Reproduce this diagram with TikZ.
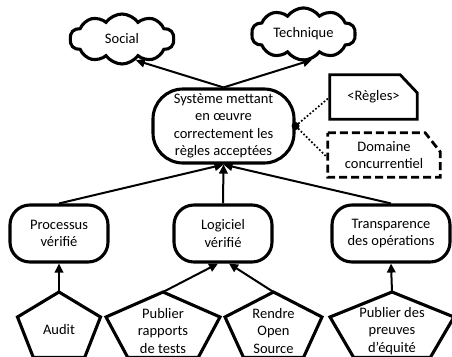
\documentclass[tikz,border=0pt]{standalone}
\usepackage{fontspec}
\setmainfont{Carlito}
\usetikzlibrary{shapes.symbols,arrows.meta,calc}

\tikzset{
  goal/.style={draw, line width=3.1pt, rounded corners=20pt, align=center,
    inner sep=0pt, minimum height=57pt, minimum width=98pt},
  topic/.style={cloud, draw, line width=3.1pt, cloud puffs=10, cloud puff arc=110,
    aspect=2.1, inner sep=0pt, minimum width=104pt, minimum height=50pt},
  link/.style={line width=2pt, -{Triangle[length=9pt,width=8.5pt]}},
  note/.style={line width=1.7pt, dotted},
  penta/.style={line width=3.1pt, line join=miter},
  ptext/.style={align=center, inner sep=0pt}
}

\begin{document}
\begin{tikzpicture}[x=1pt, y=-1pt, font=\fontsize{14.5pt}{17.5pt}\selectfont]
  \useasboundingbox (0,0) rectangle (452,356);

  % upper-level concerns
  \node[topic] (social) at (122,39) {Social};
  \node[topic] (tech) at (303.5,34) {Technique};

  % central goal
  \node[goal, rounded corners=30pt, minimum width=141pt, minimum height=74pt]
    (main) at (223.5,126) {Système mettant\\en œuvre\\correctement les\\règles acceptées};

  % sub-goals
  \node[goal] (proc) at (59,233.5) {Processus\\vérifié};
  \node[goal] (soft) at (223,233.5) {Logiciel\\vérifié};
  \node[goal, minimum width=118pt] (trans) at (391,233.5) {Transparence\\des opérations};

  % context notes
  \node[inner sep=0pt, minimum width=87pt, minimum height=44pt] (rules) at (373.5,97) {<Règles>};
  \draw[line width=2.8pt, line join=miter] (rules.north west) -- ($(rules.north east)+(-17,0)$)
    -- ($(rules.north east)+(0,18)$) -- (rules.south east) -- (rules.south west) -- cycle;
  \node[inner sep=0pt, minimum width=112pt, minimum height=44pt, align=center]
    (dom) at (384,155) {Domaine\\concurrentiel};
  \draw[line width=2.8pt, dash pattern=on 8pt off 4pt, line join=miter]
    (dom.north west) -- ($(dom.north east)+(-15,0)$)
    -- ($(dom.north east)+(0,19)$) -- (dom.south east) -- (dom.south west) -- cycle;

  \fill (main.east) circle (4pt);
  \draw[note] (main.east) -- (rules.west);
  \draw[note] (main.east) -- ([yshift=-3pt]dom.west);

  % evidence pentagons (top vertex, half width)
  \foreach \n/\cx/\hw in {audit/59/41.5, tests/163/57, open/273.5/48.5, proof/392/62}{
    \coordinate (\n) at (\cx,292);
    \draw[penta] (\n) -- ++(\hw,25) -- ++(-0.382*\hw,40.5) -- ++(-1.236*\hw,0)
      -- ++(-0.382*\hw,-40.5) -- cycle;
  }
  \node[ptext] at (59,330) {Audit};
  \node[ptext] at (163,331) {Publier\\rapports\\de tests};
  \node[ptext] at (273.5,331) {Rendre\\Open\\Source};
  \node[ptext] at (392,331) {Publier des\\preuves\\d'équité};

  % support links
  \draw[link] (main.north) -- (social.-57);
  \draw[link] (main.north) -- (tech.-72);
  \draw[link] (proc.north) -- (main.south);
  \draw[link] (soft.north) -- (main.south);
  \draw[link] (trans.north) -- (main.south);
  \draw[link] (audit) -- (proc.south);
  \draw[link] (tests) -- ([xshift=-5pt]soft.south);
  \draw[link] (open) -- ([xshift=6pt]soft.south);
  \draw[link] (proof) -- (trans.south);
\end{tikzpicture}
\end{document}
